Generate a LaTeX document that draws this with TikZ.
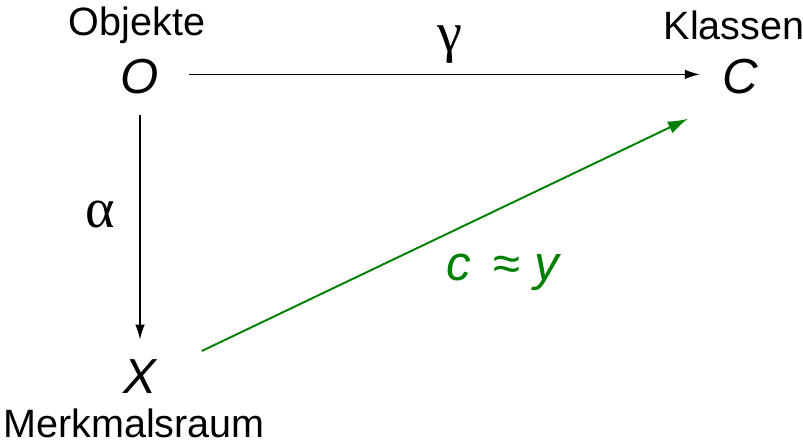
\documentclass[tikz,border=0pt]{standalone}
\usepackage{fontspec}
\setmainfont{Liberation Sans}
\newfontfamily\greekfont{Liberation Serif}
\usepackage{xcolor}
\usepackage{tikz}
\usetikzlibrary{
  arrows.meta,
  positioning
}
\definecolor{mapgreen}{RGB}{0, 128, 0}

\begin{document}
\begin{tikzpicture}[
  x=0.02cm, y=-0.02cm,
  setnode/.style={
    font=\fontsize{28}{32}\selectfont\itshape, inner sep=0pt
  },
  setlabel/.style={
    font=\fontsize{22.5}{26}\selectfont, inner sep=0pt
  },
  maplabel/.style={
    font=\fontsize{32}{36}\selectfont\greekfont, inner sep=0pt
  },
  maparrow/.style={-{Latex[length=3mm, width=1.9mm]}, line width=0.85pt, draw=black},
  fitarrow/.style={-{Latex[length=4mm, width=2.6mm]}, line width=1.1pt, draw=mapgreen}
]
\useasboundingbox (0,0) rectangle (803,443);
\node[setnode] (O) at (140,77)  {O};
\node[setnode] (C) at (740,77)  {C};
\node[setnode] (X) at (140,377) {X};
\node[setlabel] (objekte) at (137,25)  {Objekte};
\node[setlabel] (klassen) at (734,25)  {Klassen};
\node[setlabel] (merkmal) at (134,423) {Merkmalsraum};
\draw[maparrow, shorten <=0.6cm, shorten >=0.44cm] ([yshift=1.5pt]O.east) -- ([yshift=1.5pt]C.west);
\draw[maparrow] ([yshift=-0.4cm]O.south) -- ([yshift=0.4cm]X.north);
\draw[fitarrow] ([xshift=0.9cm, yshift=0.52cm]X.east) -- ([xshift=-0.68cm, yshift=-0.48cm]C.south west);
\node[maplabel] (gamma) at (450,45) {γ};
\node[maplabel] (alpha) at (100,215) {α};
\node[setnode, text=mapgreen] (cy) at (503,272) {c\hspace{0.45em}{\upshape≈}\hspace{0.3em}y};
\end{tikzpicture}
\end{document}
